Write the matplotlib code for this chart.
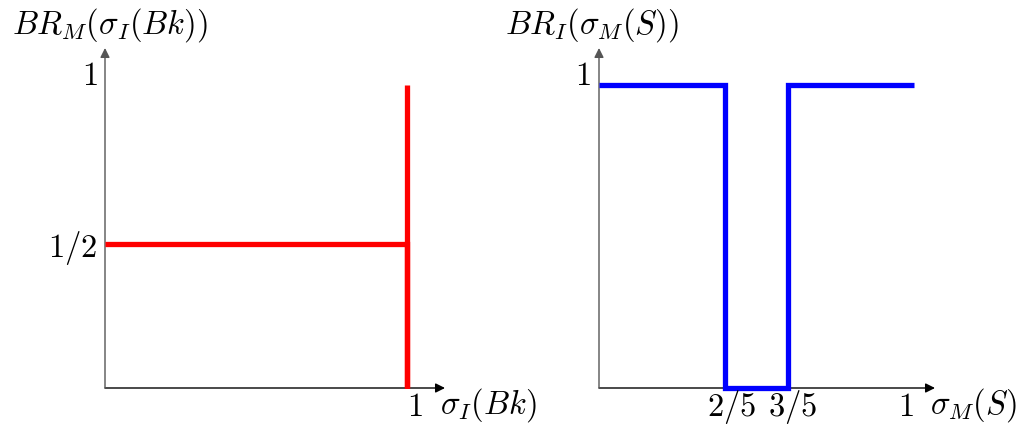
import matplotlib
matplotlib.use("Agg")
import matplotlib.pyplot as plt

plt.rcParams['mathtext.fontset'] = 'cm'
plt.rcParams['font.family'] = 'serif'
plt.rcParams['font.serif'] = ['DejaVu Serif']

# left panel: best response of M to sigma_I(Bk)
left_x = [0, 1, 1, 1]
left_y = [0.475, 0.475, 0, 1]
left_yticks = [1, 0.475]
left_yticklabels = ['$1$', '$1/2$']
left_xticks = [1]
left_xticklabels = ['$1$']

# right panel: best response of I to sigma_M(S)
right_x = [0, 0.4, 0.4, 0.6, 0.6, 1]
right_y = [1, 1, 0, 0, 1, 1]
right_xticks = [0.4, 0.6, 1]
right_xticklabels = ['$2/5$', '$3/5$', '$1$']
right_yticks = [1]
right_yticklabels = ['$1$']

W, H = 1029, 426
fig = plt.figure(figsize=(W / 100, H / 100), dpi=100)

FS = 23.5


def make_axes(x0, y0, w, h, xmax, ymax):
    ax = fig.add_axes([x0 / W, y0 / H, w / W, h / H])
    ax.set_xlim(0, xmax)
    ax.set_ylim(0, ymax)
    ax.axis('off')
    ax.annotate('', xy=(1, 0), xycoords='axes fraction', xytext=(0, 0),
                arrowprops=dict(arrowstyle='-|>', color='black', lw=1.0,
                                mutation_scale=14, shrinkA=0, shrinkB=0))
    ax.annotate('', xy=(0, 1), xycoords='axes fraction', xytext=(0, 0),
                arrowprops=dict(arrowstyle='-|>', color='#555555', lw=1.0,
                                mutation_scale=14, shrinkA=0, shrinkB=0))
    return ax


def add_ticks(ax, xticks, xlabels, yticks, ylabels, xshift, yshift):
    for v, s, dx in zip(xticks, xlabels, xshift):
        ax.text(v + dx, 0, s, fontsize=FS, ha='center', va='center',
                transform=ax.get_xaxis_transform() + matplotlib.transforms.ScaledTranslation(0, -0.195, fig.dpi_scale_trans))
    for v, s, dy in zip(yticks, ylabels, yshift):
        ax.text(-0.025, v + dy, s, fontsize=FS, ha='right', va='center')


ax1 = make_axes(105, 38, 340, 340, 340 / 302, 340 / 303)
ax1.plot(left_x, left_y, color='#ff0000', lw=3.8, solid_capstyle='butt',
         solid_joinstyle='miter', clip_on=False, zorder=3)
add_ticks(ax1, left_xticks, left_xticklabels, left_yticks, left_yticklabels,
          [0.027], [0.03, -0.012])
ax1.text(0.985, -0.05, r'$\sigma_I(Bk)$', fontsize=FS, ha='left', va='center',
         transform=ax1.transAxes)
ax1.text(-0.274, 1.068, r'$BR_M(\sigma_I(Bk))$', fontsize=FS, ha='left',
         va='center', transform=ax1.transAxes)

ax2 = make_axes(599, 38, 336, 340, 336 / 315, 340 / 303)
ax2.plot(right_x, right_y, color='#0000ff', lw=3.8, solid_capstyle='butt',
         solid_joinstyle='miter', clip_on=False, zorder=3)
add_ticks(ax2, right_xticks, right_xticklabels, right_yticks, right_yticklabels,
          [0.02, 0.015, -0.025], [0.03])
ax2.text(0.985, -0.05, r'$\sigma_M(S)$', fontsize=FS, ha='left', va='center',
         transform=ax2.transAxes)
ax2.text(-0.28, 1.068, r'$BR_I(\sigma_M(S))$', fontsize=FS, ha='left',
         va='center', transform=ax2.transAxes)

fig.savefig('out.png', dpi=100, facecolor='white')
